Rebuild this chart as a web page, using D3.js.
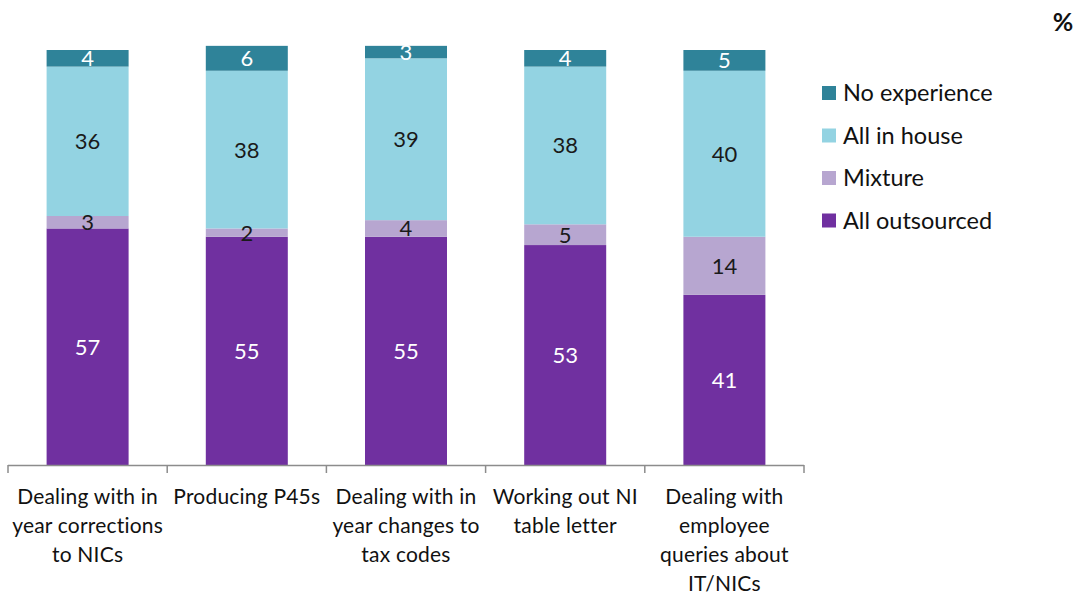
<!DOCTYPE html>
<html>
<head>
<meta charset="utf-8">
<script src="https://cdn.jsdelivr.net/npm/d3@7"></script>
<style>
  html, body { margin: 0; padding: 0; background: #fff; }
  svg { display: block; font-family: Lato, "Open Sans", sans-serif; }
</style>
</head>
<body>
<svg id="chart" width="1087" height="596"></svg>
<script>
// Payroll tasks and how employers handle them (%)
const categories = [
  ["Dealing with in", "year corrections", "to NICs"],
  ["Producing P45s"],
  ["Dealing with in", "year changes to", "tax codes"],
  ["Working out NI", "table letter"],
  ["Dealing with", "employee", "queries about", "IT/NICs"]
];
const seriesNames = ["All outsourced", "Mixture", "All in house", "No experience"];
const allOutsourced = [57, 55, 55, 53, 41];
const mixture       = [3, 2, 4, 5, 14];
const allInHouse    = [36, 38, 39, 38, 40];
const noExperience  = [4, 6, 3, 4, 5];
const colors = ["#7030a0", "#b7a6d0", "#93d3e2", "#2f8399"];
const labelColors = ["#ffffff", "#1a1a1a", "#1a1a1a", "#ffffff"];

const rows = categories.map((c, i) => ({
  key: i,
  "All outsourced": allOutsourced[i],
  "Mixture": mixture[i],
  "All in house": allInHouse[i],
  "No experience": noExperience[i]
}));

const svg = d3.select("#chart");
const left = 8, right = 804, baseY = 465;

const x = d3.scaleBand().domain(d3.range(categories.length)).range([left, right]).paddingInner(0).paddingOuter(0);
const y = d3.scaleLinear().domain([0, 100]).range([baseY, 50]);

const stacked = d3.stack().keys(seriesNames)(rows);
const barW = 82;

const layers = svg.append("g").selectAll("g").data(stacked).join("g")
  .attr("fill", (d, i) => colors[i]);

layers.selectAll("rect").data(d => d).join("rect")
  .attr("x", (d, i) => x(i) + x.bandwidth() / 2 - barW / 2)
  .attr("width", barW)
  .attr("y", d => y(d[1]))
  .attr("height", d => y(d[0]) - y(d[1]));

// value labels
stacked.forEach((layer, si) => {
  svg.append("g").selectAll("text").data(layer).join("text")
    .attr("x", (d, i) => x(i) + x.bandwidth() / 2)
    .attr("y", d => (y(d[0]) + y(d[1])) / 2)
    .attr("dy", "0.36em")
    .attr("text-anchor", "middle")
    .attr("font-size", 22)
    .attr("fill", labelColors[si])
    .text(d => d[1] - d[0]);
});

// category axis
const axis = svg.append("g").attr("transform", `translate(0,${baseY})`);
axis.append("line").attr("x1", left).attr("x2", right).attr("y1", 0.5).attr("y2", 0.5)
  .attr("stroke", "#8c8c8c").attr("stroke-width", 1.5);
const tickXs = d3.range(categories.length + 1).map(i => i < categories.length ? x(i) : right);
axis.selectAll("line.tick").data(tickXs).join("line").attr("class", "tick")
  .attr("x1", d => d).attr("x2", d => d).attr("y1", 0).attr("y2", 8)
  .attr("stroke", "#8c8c8c").attr("stroke-width", 1.5);

const labels = axis.selectAll("text.cat").data(categories).join("text").attr("class", "cat")
  .attr("text-anchor", "middle")
  .attr("font-size", 21)
  .attr("letter-spacing", 0.2)
  .attr("fill", "#111");
labels.each(function (lines, i) {
  d3.select(this).selectAll("tspan").data(lines).join("tspan")
    .attr("x", x(i) + x.bandwidth() / 2)
    .attr("y", (d, j) => 39 + j * 29)
    .text(d => d);
});

// legend (top entry first)
const legendOrder = [3, 2, 1, 0];
const legend = svg.append("g");
legendOrder.forEach((si, k) => {
  const yy = 93 + k * 42.5;
  legend.append("rect").attr("x", 822).attr("y", yy - 7).attr("width", 14).attr("height", 14)
    .attr("fill", colors[si]);
  legend.append("text").attr("x", 843).attr("y", yy).attr("dy", "0.36em")
    .attr("font-size", 23.5).attr("fill", "#111").text(seriesNames[si]);
});

svg.append("text").attr("x", 1063).attr("y", 22).attr("dy", "0.36em")
  .attr("text-anchor", "middle").attr("font-size", 25).attr("font-weight", "bold")
  .attr("fill", "#111").text("%");
</script>
</body>
</html>
